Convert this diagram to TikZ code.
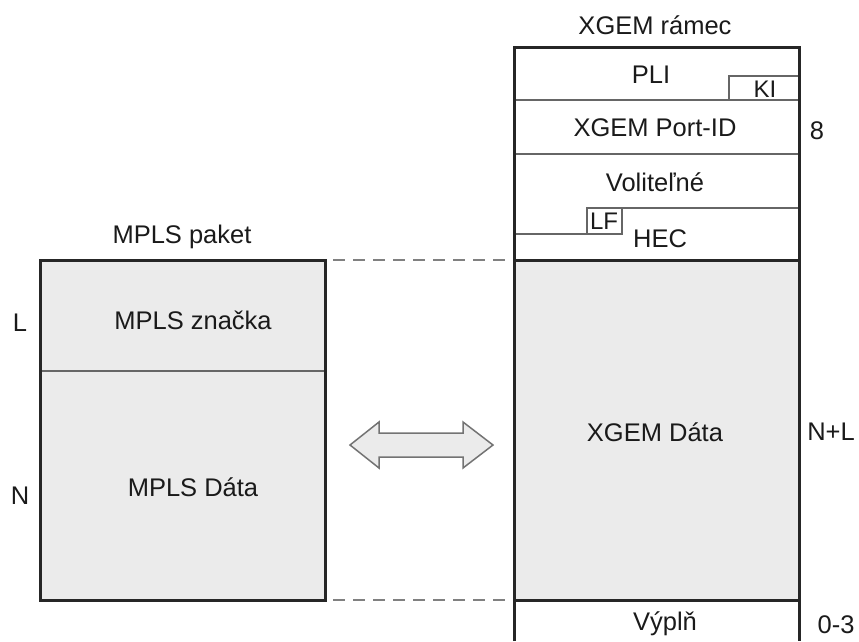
\documentclass[tikz,border=0pt]{standalone}
\usepackage{fontspec}
\setmainfont{Liberation Sans}
\definecolor{boxfill}{HTML}{EBEBEB}
\definecolor{txt}{HTML}{1A1A1A}
\begin{document}
\begin{tikzpicture}[x=1pt,y=-1pt,
  lbl/.style={font=\fontsize{25.5}{30}\selectfont, text=txt, inner sep=0pt},
  small/.style={font=\fontsize{24}{28}\selectfont, text=txt, inner sep=0pt},
  outerline/.style={line width=3pt, draw=black!85},
  innerline/.style={line width=1.8pt, draw=black!60},
  dashline/.style={draw=black!50, line width=2pt, dash pattern=on 12pt off 8pt},
  arrowshape/.style={fill=boxfill, draw=black!55, line width=1.5pt, line join=miter}]
\useasboundingbox (0,0) rectangle (859,641);

% ---- left: MPLS packet
\fill[boxfill] (40,260) rectangle (325,600);
\draw[innerline] (40,371) -- (325,371);
\draw[outerline] (40,260) rectangle (325,600);
\node[lbl] (mplstitle) at (182,237) {MPLS paket};
\node[lbl] (mplslabel) at (193,320) {MPLS značka};
\node[lbl] (mplsdata) at (193,487) {MPLS Dáta};
\node[lbl] (lL) at (20,323) {L};
\node[lbl] (lN) at (20,496) {N};

% ---- right: XGEM frame
\fill[boxfill] (514,260) rectangle (799,600);
\draw[innerline] (514,100) -- (799,100);
\draw[innerline] (514,154) -- (799,154);
\draw[innerline] (622,208) -- (799,208);
\draw[innerline] (514,234) -- (587,234);
\draw[innerline] (729,100) -- (729,76) -- (799,76);
\draw[innerline] (587,208) rectangle (622,234);
\draw[outerline] (514,641) -- (514,47) -- (799,47) -- (799,641);
\draw[outerline] (514,260) -- (799,260);
\draw[outerline] (514,600) -- (799,600);

\node[lbl] (xgemtitle) at (655,25) {XGEM rámec};
\node[lbl] (pli) at (651,75) {PLI};
\node[small] (ki) at (765,89) {KI};
\node[lbl] (portid) at (655,128) {XGEM Port-ID};
\node[lbl] (volitelne) at (655,182) {Voliteľné};
\node[small] (lf) at (604,221) {LF};
\node[lbl] (hec) at (660,239) {HEC};
\node[lbl] (xgemdata) at (655,432) {XGEM Dáta};
\node[lbl] (vypln) at (665,624) {Výplň};
\node[lbl] (n8) at (817,131) {8};
\node[lbl] (nNL) at (831,432) {N+L};
\node[lbl] (n03) at (836,625) {0-3};

% ---- dashed alignment lines
\coordinate (dTl) at (333,260); \coordinate (dTr) at (508,260);
\coordinate (dBl) at (333,600); \coordinate (dBr) at (508,600);
\draw[dashline] (dTl) -- (dTr);
\draw[dashline] (dBl) -- (dBr);

% ---- double arrow
\draw[arrowshape] (350,445) -- (379,422) -- (379,433) -- (463,433) -- (463,422)
  -- (493,445) -- (463,468) -- (463,457) -- (379,457) -- (379,468) -- cycle;
\end{tikzpicture}
\end{document}
